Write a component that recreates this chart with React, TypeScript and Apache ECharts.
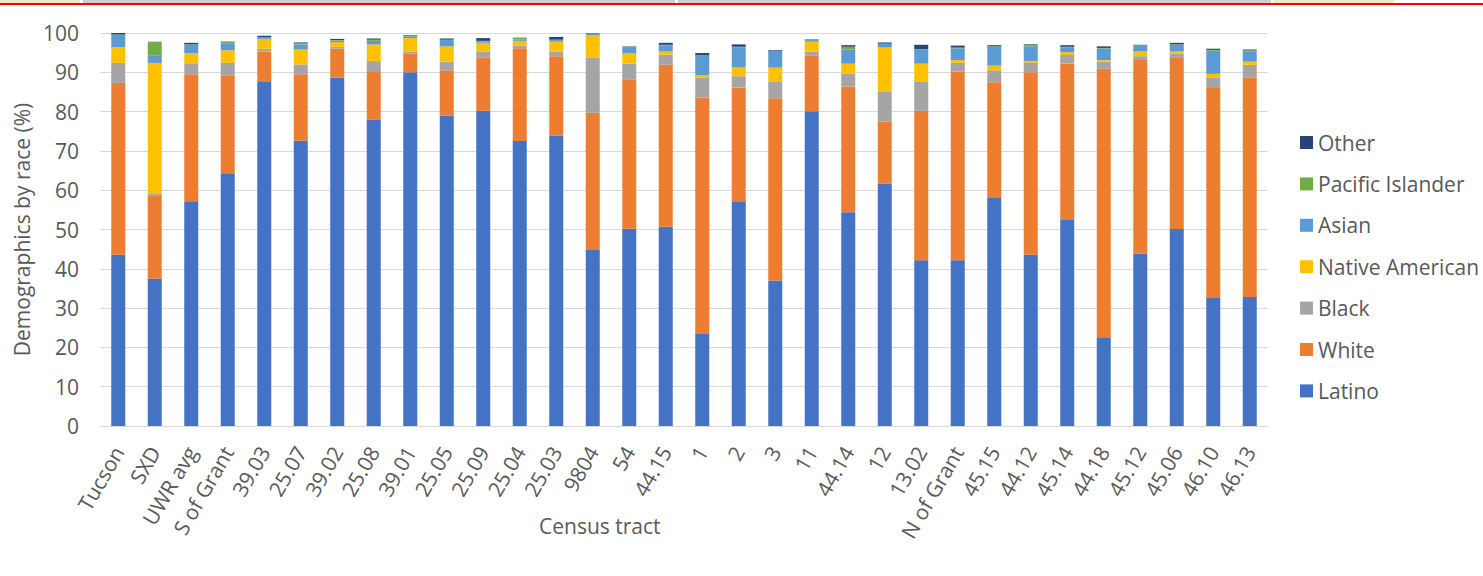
import React, { useEffect, useRef } from "react";
import * as echarts from "echarts";

const categories = ["Tucson", "SXD", "UWR avg", "S of Grant", "39.03", "25.07", "39.02", "25.08", "39.01", "25.05", "25.09", "25.04", "25.03", "9804", "54", "44.15", "1", "2", "3", "11", "44.14", "12", "13.02", "N of Grant", "45.15", "44.12", "45.14", "44.18", "45.12", "45.06", "46.10", "46.13"];

const latino = [43.6, 37.5, 57.2, 64.3, 87.7, 72.6, 88.7, 77.9, 90.0, 79.0, 80.2, 72.5, 73.9, 44.8, 50.2, 50.7, 23.4, 57.2, 37.0, 80.1, 54.4, 61.7, 42.2, 42.2, 58.0, 43.6, 52.6, 22.4, 43.8, 50.1, 32.6, 32.8];
const white = [43.7, 21.2, 32.3, 24.8, 7.6, 16.9, 7.3, 12.4, 4.7, 11.5, 13.6, 23.6, 20.2, 34.9, 38.0, 41.2, 60.2, 28.9, 46.4, 14.1, 32.0, 15.8, 38.0, 48.0, 29.5, 46.4, 39.6, 68.5, 49.3, 43.7, 53.4, 55.8];
const black = [5.1, 0.5, 2.8, 3.3, 0.7, 2.5, 0.5, 2.6, 0.5, 2.2, 1.5, 0.7, 1.2, 14.1, 4.0, 2.6, 5.1, 2.9, 4.3, 1.1, 3.2, 7.5, 7.5, 2.2, 3.0, 2.4, 2.2, 1.8, 1.0, 0.9, 2.6, 3.3];
const nativeAmerican = [4.0, 33.2, 2.6, 3.2, 2.5, 3.8, 1.2, 4.2, 3.5, 3.9, 2.2, 1.2, 2.5, 5.6, 2.7, 0.8, 0.6, 2.2, 3.5, 2.5, 2.6, 11.3, 4.5, 0.7, 1.2, 0.5, 0.7, 0.4, 1.2, 0.6, 1.0, 0.8];
const asian = [3.1, 1.8, 2.1, 1.8, 0.3, 1.3, 0.4, 0.9, 0.4, 1.6, 0.4, 0.3, 0.4, 0.4, 1.3, 1.6, 4.9, 5.2, 4.0, 0.4, 3.6, 0.9, 3.5, 3.0, 4.8, 3.7, 1.3, 3.0, 1.4, 1.7, 5.9, 2.5];
const pacificIslander = [0.1, 3.6, 0.1, 0.3, 0.1, 0.3, 0.1, 0.3, 0.1, 0.1, 0.1, 0.4, 0.1, 0.1, 0.3, 0.1, 0.1, 0.1, 0.1, 0.1, 0.7, 0.1, 0.2, 0.2, 0.1, 0.5, 0.1, 0.1, 0.2, 0.1, 0.2, 0.4];
const other = [0.4, 0.0, 0.4, 0.1, 0.4, 0.2, 0.3, 0.3, 0.2, 0.3, 0.7, 0.1, 0.7, 0.1, 0.1, 0.5, 0.6, 0.6, 0.3, 0.1, 0.4, 0.3, 1.1, 0.5, 0.3, 0.1, 0.4, 0.4, 0.1, 0.4, 0.3, 0.2];

const yTicks = { min: 0, max: 100, interval: 10 };

const seriesDefs = [
  { name: "Latino", data: latino, color: "#4472C4" },
  { name: "White", data: white, color: "#ED7D31" },
  { name: "Black", data: black, color: "#A5A5A5" },
  { name: "Native American", data: nativeAmerican, color: "#FFC000" },
  { name: "Asian", data: asian, color: "#5B9BD5" },
  { name: "Pacific Islander", data: pacificIslander, color: "#70AD47" },
  { name: "Other", data: other, color: "#264478" },
];

const FONT = "'Open Sans', 'Noto Sans', sans-serif";
const TXT = "#595959";

export default function App() {
  const ref = useRef<HTMLDivElement>(null);
  useEffect(() => {
    if (!ref.current) return;
    const chart = echarts.init(ref.current, null, { renderer: "svg" });
    chart.setOption({
      animation: false,
      backgroundColor: "#ffffff",
      textStyle: { fontFamily: FONT, color: TXT },
      grid: { left: 100, right: 215, top: 33, bottom: 150, containLabel: false },
      legend: {
        orient: "vertical",
        left: 1300,
        top: 132,
        padding: 0,
        itemWidth: 13,
        itemHeight: 13,
        itemGap: 20.4,
        icon: "rect",
        data: ["Other", "Pacific Islander", "Asian", "Native American", "Black", "White", "Latino"],
        textStyle: { fontFamily: FONT, fontSize: 21, color: TXT, lineHeight: 21 },
      },
      xAxis: {
        type: "category",
        data: categories,
        axisTick: { show: false },
        axisLine: { lineStyle: { color: "#D9D9D9", width: 1 } },
        axisLabel: {
          interval: 0,
          rotate: 60,
          margin: 22,
          padding: [20, 0, 0, 0],
          fontFamily: FONT,
          fontSize: 21,
          color: TXT,
        },
      },
      yAxis: {
        type: "value",
        min: yTicks.min,
        max: yTicks.max,
        interval: yTicks.interval,
        name: "Demographics by race (%)",
        nameLocation: "middle",
        nameRotate: 90,
        nameGap: 66,
        nameTextStyle: { fontFamily: FONT, fontSize: 21, color: TXT },
        axisLine: { show: false },
        axisTick: { show: false },
        splitLine: { lineStyle: { color: "#D9D9D9", width: 1 } },
        axisLabel: { margin: 21, fontFamily: FONT, fontSize: 21, color: TXT },
      },
      series: seriesDefs.map((s) => ({
        name: s.name,
        type: "bar",
        stack: "total",
        data: s.data,
        barWidth: 14,
        itemStyle: { color: s.color },
        emphasis: { disabled: true },
      })),
      graphic: [
        { type: "rect", left: 0, top: 0, shape: { width: 80, height: 3 }, style: { fill: "#EFEBCB" }, silent: true },
        { type: "rect", left: 83, top: 0, shape: { width: 592, height: 3 }, style: { fill: "#CFCFCF" }, silent: true },
        { type: "rect", left: 678, top: 0, shape: { width: 593, height: 3 }, style: { fill: "#CFCFCF" }, silent: true },
        { type: "rect", left: 1273, top: 0, shape: { width: 121, height: 3 }, style: { fill: "#EFEBCB" }, silent: true },
        { type: "rect", left: 0, top: 3, shape: { width: 1483, height: 2 }, style: { fill: "#FF0000" }, silent: true },
        {
          type: "text",
          left: 539,
          top: 515,
          style: { text: "Census tract", fontFamily: FONT, fontSize: 21, fill: TXT },
          silent: true,
        },
      ],
    });
    return () => chart.dispose();
  }, []);
  return (
    <div
      ref={ref}
      style={{ position: "fixed", left: 0, top: 0, width: 1483, height: 576, background: "#fff" }}
    />
  );
}
